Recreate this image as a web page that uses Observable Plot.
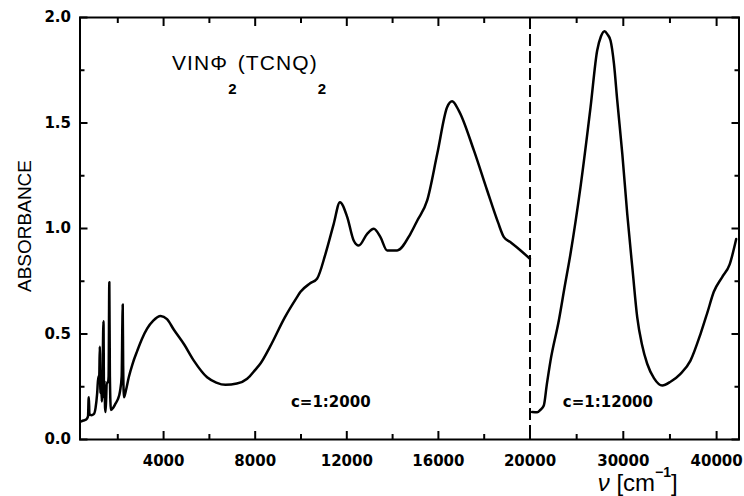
<!DOCTYPE html>
<html><head><meta charset="utf-8">
<script src="https://cdn.jsdelivr.net/npm/d3@7"></script>
<script src="https://cdn.jsdelivr.net/npm/@observablehq/plot@0.6"></script>
<style>body{margin:0;background:#fff}</style>
</head><body><div id="chart"></div>
<script>
// Visible / NIR part (c = 1:2000)
const visWavenumber = [380,500,620,700,725,740,760,850,950,1030,1100,1150,1190,1215,1240,1270,1300,1330,1360,1375,1400,1420,1445,1470,1520,1570,1600,1630,1655,1700,1800,1900,2000,2100,2170,2200,2215,2235,2270,2350,2480,2650,2850,3050,3280,3550,3870,4150,4450,4900,5320,5900,6300,6700,7200,7650,8000,8230,8650,9300,9800,9980,10400,10700,11070,11430,11700,12020,12300,12520,12890,13180,13470,13760,14200,14780,15080,15510,15950,16380,16600,16890,17550,18130,18600,18860,19150,19590,20000];
const visAbsorbance = [0.085,0.09,0.095,0.11,0.19,0.2,0.12,0.115,0.12,0.15,0.22,0.3,0.3,0.44,0.22,0.3,0.18,0.27,0.5,0.56,0.2,0.28,0.15,0.13,0.27,0.27,0.3,0.745,0.3,0.14,0.15,0.17,0.19,0.23,0.3,0.55,0.64,0.35,0.2,0.23,0.295,0.36,0.42,0.475,0.525,0.563,0.585,0.57,0.52,0.45,0.374,0.295,0.27,0.259,0.265,0.288,0.33,0.36,0.44,0.58,0.67,0.7,0.74,0.762,0.88,1.022,1.125,1.054,0.943,0.919,0.975,0.999,0.959,0.896,0.896,0.975,1.038,1.133,1.354,1.575,1.603,1.559,1.37,1.18,1.03,0.959,0.935,0.896,0.856];
// UV part (c = 1:12000)
const uvWavenumber = [20230,20770,21100,21480,21800,22200,23090,23700,24340,25410,26490,27200,27600,27990,28300,28630,29000,29350,29900,30420,31000,31490,32000,32560,33300,34170,35100,36130,37200,38280,39000,39700,40600,41400,42100];
const uvAbsorbance = [0.13,0.129,0.14,0.161,0.26,0.374,0.564,0.72,0.88,1.196,1.575,1.844,1.91,1.935,1.92,1.891,1.78,1.607,1.35,1.07,0.8,0.58,0.45,0.359,0.29,0.256,0.275,0.311,0.374,0.501,0.6,0.7,0.77,0.83,0.95];

const xMajorTicks = [4000, 8000, 12000, 16000, 20000, 30000, 40000];
const xMinorTicks = [2000, 6000, 10000, 14000, 18000, 25000, 35000];
const yMajorTicks = [0, 0.5, 1.0, 1.5, 2.0];
const yMinorTicks = [0.25, 0.75, 1.25, 1.75];
const scaleBreak = [20000];
const dilutionLabels = ["c=1:2000", "c=1:12000"];

const vis = visWavenumber.map((x, i) => ({x, y: visAbsorbance[i]}));
const uv = uvWavenumber.map((x, i) => ({x, y: uvAbsorbance[i]}));

const W = 744, H = 496;
const mL = 79.5, mR = 5.5, mT = 17, mB = 57;
const xDomain = [350, 20000, 42400], xRange = [mL, 529.5, W - mR];
const yDomain = [0, 2], yRange = [H - mB, mT];
const majorLen = 8, minorLen = 5;

function inwardTicks(axis, anchor, ticks, len) {
  return axis({anchor, ticks, tickSize: -len, strokeWidth: 2, text: null, label: null});
}

const plot = Plot.plot({
  width: W, height: H,
  marginLeft: mL, marginRight: mR, marginTop: mT, marginBottom: mB,
  x: {type: "linear", domain: xDomain, range: xRange},
  y: {domain: yDomain, range: yRange},
  style: {fontFamily: "DejaVu Sans", fontSize: "15px", fontWeight: "bold", color: "black", background: "white", overflow: "visible"},
  marks: [
    inwardTicks(Plot.axisX, "bottom", xMajorTicks, majorLen),
    inwardTicks(Plot.axisX, "bottom", xMinorTicks, minorLen),
    inwardTicks(Plot.axisX, "top", xMajorTicks, majorLen),
    inwardTicks(Plot.axisX, "top", xMinorTicks, minorLen),
    inwardTicks(Plot.axisY, "left", yMajorTicks, majorLen),
    inwardTicks(Plot.axisY, "left", yMinorTicks, minorLen),
    inwardTicks(Plot.axisY, "right", yMajorTicks, majorLen),
    inwardTicks(Plot.axisY, "right", yMinorTicks, minorLen),
    Plot.frame({strokeWidth: 2}),
    Plot.axisX({anchor: "bottom", ticks: xMajorTicks, tickSize: 0, tickPadding: 16, tickFormat: d => String(d), label: null}),
    Plot.axisY({anchor: "left", ticks: yMajorTicks, tickSize: 0, tickPadding: 9, tickFormat: d3.format(".1f"), label: null}),
    Plot.ruleX(scaleBreak, {strokeWidth: 2, strokeDasharray: "12,5"}),
    Plot.line(vis, {x: "x", y: "y", strokeWidth: 2.5, curve: "monotone-x"}),
    Plot.line(uv, {x: "x", y: "y", strokeWidth: 2.5, curve: "monotone-x"}),
    Plot.text([dilutionLabels[0]], {x: 11300, y: 0.175, text: d => d, fontSize: 15, fontWeight: "bold"}),
    Plot.text([dilutionLabels[1]], {x: 28350, y: 0.175, text: d => d, fontSize: 15, fontWeight: "bold"})
  ]
});

const svg = d3.select(plot);
const sx = plot.scale("x"), sy = plot.scale("y");
// title with subscripts
const t = svg.append("text")
  .attr("x", sx.apply(4390)).attr("y", sy.apply(1.75))
  .attr("text-anchor", "start")
  .attr("font-family", "Liberation Sans").attr("font-size", 21).attr("letter-spacing", 1.1).attr("font-weight", "normal");
t.append("tspan").text("VINΦ");
t.append("tspan").attr("dy", 24).attr("font-size", 15).attr("font-weight", "bold").text("2");
t.append("tspan").attr("dy", -24).text("(TCNQ)");
t.append("tspan").attr("dy", 24).attr("font-size", 15).attr("font-weight", "bold").text("2");
// y label
svg.append("text")
  .attr("transform", `translate(31,226) rotate(-90)`)
  .attr("text-anchor", "middle")
  .attr("font-family", "Liberation Sans").attr("font-size", 19).attr("font-weight", "normal")
  .text("ABSORBANCE");
// x label
const xl = svg.append("text")
  .attr("x", sx.apply(31600)).attr("y", H - 5)
  .attr("text-anchor", "middle")
  .attr("font-family", "Liberation Sans").attr("font-size", 24).attr("font-weight", "normal");
xl.append("tspan").attr("font-style", "italic").text("ν");
xl.append("tspan").text(" [cm");
xl.append("tspan").attr("dy", -14).attr("font-size", 14).attr("font-weight", "bold").text("−1");
xl.append("tspan").attr("dy", 14).text("]");

document.getElementById("chart").appendChild(plot);
</script></body></html>
